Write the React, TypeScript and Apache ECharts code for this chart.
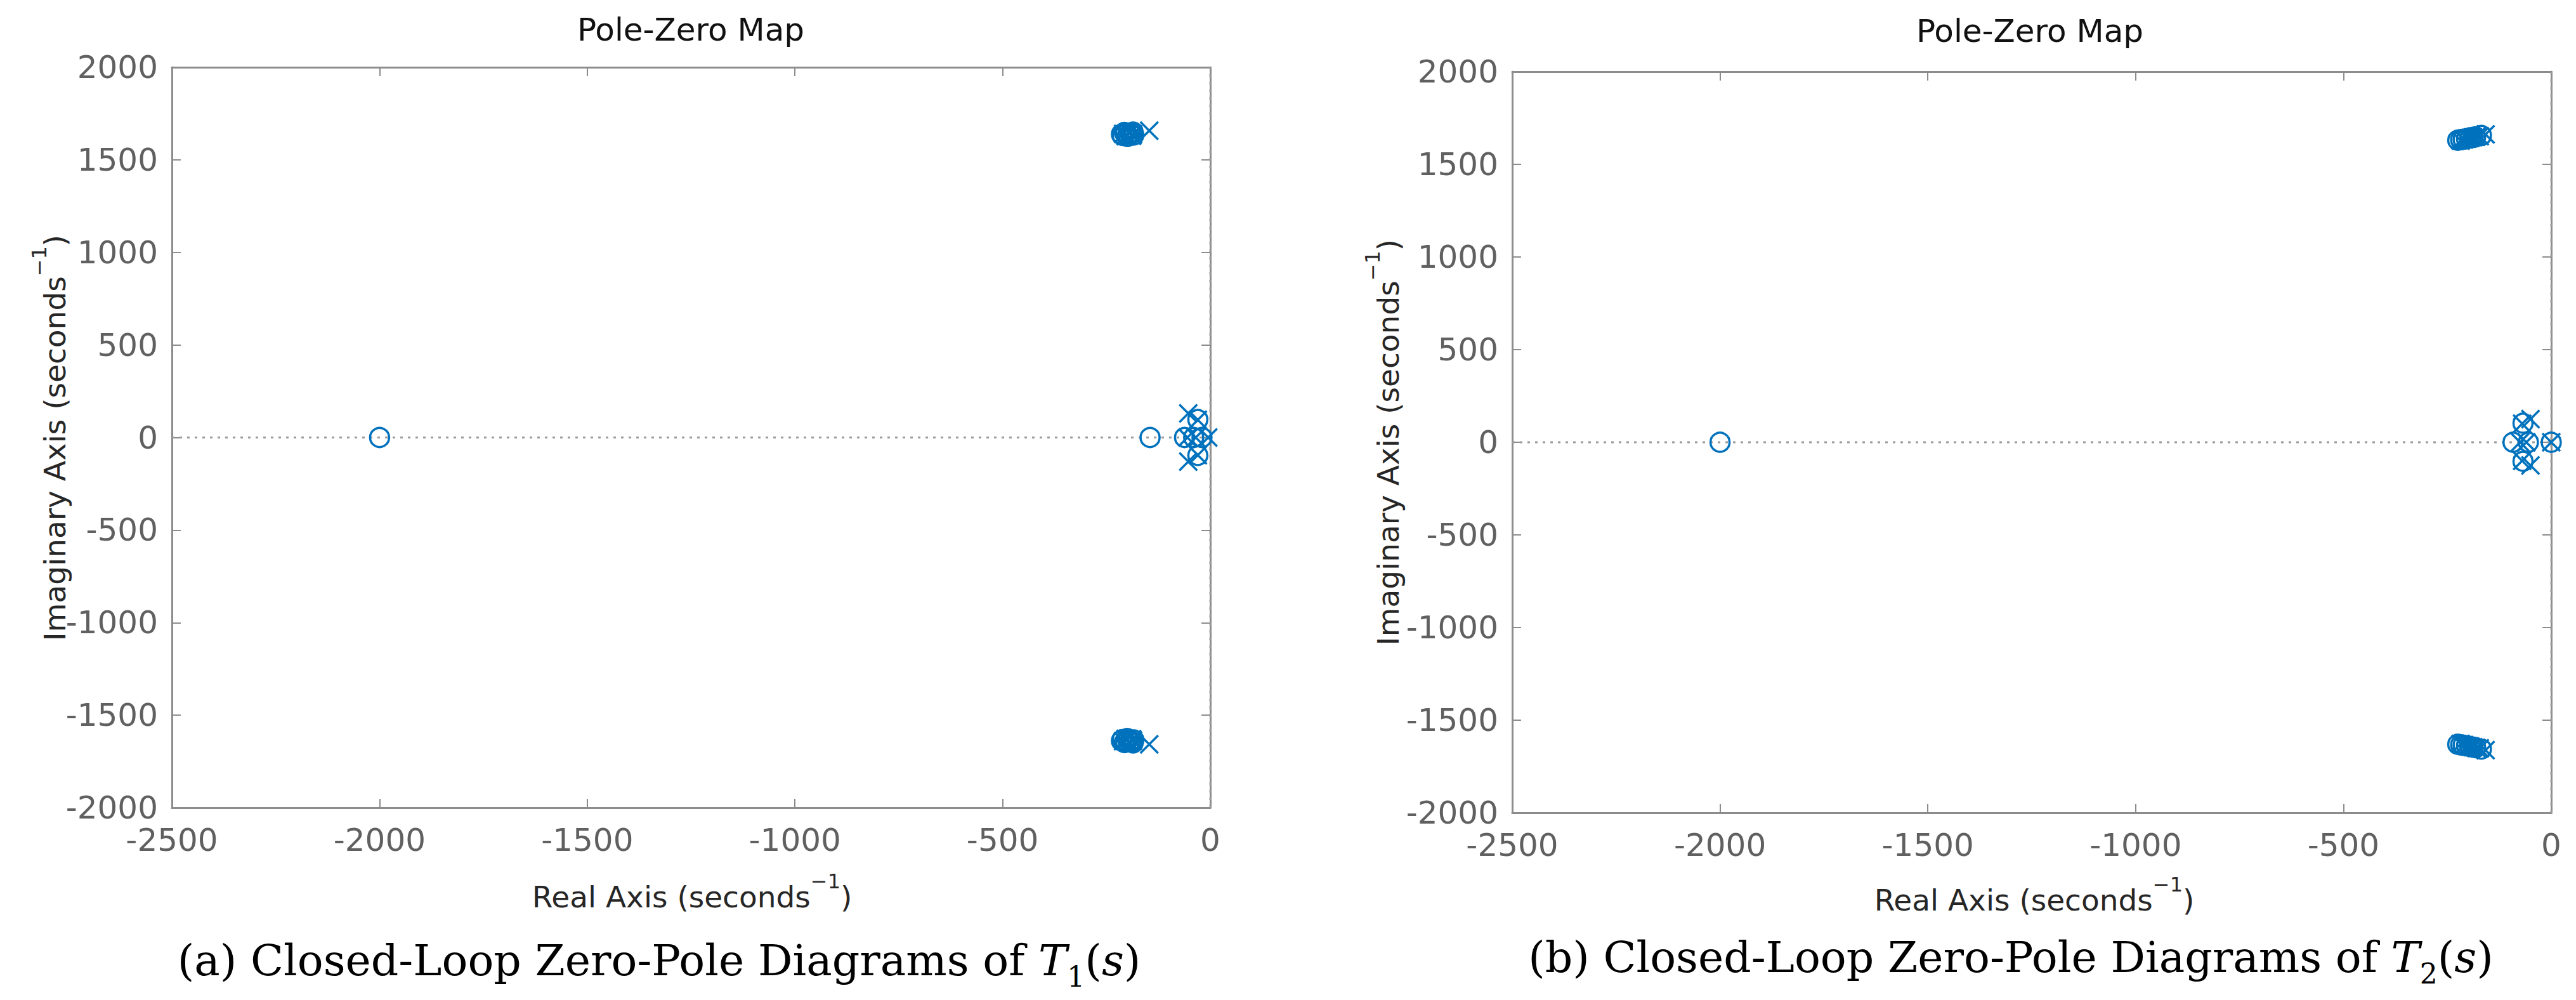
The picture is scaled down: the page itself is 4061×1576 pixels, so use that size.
import React, { useEffect, useRef } from "react";
import * as echarts from "echarts";

// ---------- data (real, imaginary) ----------
const xTicks = { min: -2500, max: 0, interval: 500 };
const yTicks = { min: -2000, max: 2000, interval: 500 };

const t1Poles: number[][] = [
  [-210, 1640], [-204, 1628], [-200, 1635], [-196, 1648], [-193, 1646], [-188, 1630], [-186, 1638], [-147, 1657],
  [-210, -1640], [-204, -1628], [-200, -1635], [-196, -1648], [-193, -1646], [-188, -1630], [-186, -1638], [-147, -1657],
  [-53, 130], [-53, -130], [-30, 95], [-30, -95],
  [-55, 0], [-35, 0], [-5, 0],
];
const t1Zeros: number[][] = [
  [-2000, 0], [-145, 0],
  [-214, 1638], [-212, 1632], [-207, 1648], [-204, 1645], [-200, 1626], [-197, 1630], [-193, 1640], [-190, 1642], [-186, 1650], [-184, 1634],
  [-214, -1638], [-212, -1632], [-207, -1648], [-204, -1645], [-200, -1626], [-197, -1630], [-193, -1640], [-190, -1642], [-186, -1650], [-184, -1634],
  [-30, 97], [-30, -97],
  [-62, 0], [-40, 0], [-20, 0], [2, 0],
];
const t2Poles: number[][] = [
  [-218, 1628], [-210, 1634], [-203, 1640], [-195, 1643], [-188, 1646], [-180, 1650], [-172, 1652], [-158, 1662],
  [-218, -1628], [-210, -1634], [-203, -1640], [-195, -1643], [-188, -1646], [-180, -1650], [-172, -1652], [-158, -1662],
  [-50, 125], [-50, -125], [-70, 100], [-70, -100],
  [-75, 0], [-60, 0], [0, 0],
];
const t2Zeros: number[][] = [
  [-2000, 0],
  [-225, 1630], [-218, 1633], [-212, 1635], [-204, 1638], [-196, 1642], [-189, 1645], [-182, 1648], [-168, 1656],
  [-225, -1630], [-218, -1633], [-212, -1635], [-204, -1638], [-196, -1642], [-189, -1645], [-182, -1648], [-168, -1656],
  [-68, 103], [-68, -103],
  [-92, 0], [-55, 0], [0, 0],
];

const panels = [
  { poles: t1Poles, zeros: t1Zeros, letter: "(a)", sub: "1" },
  { poles: t2Poles, zeros: t2Zeros, letter: "(b)", sub: "2" },
];

// ---------- layout / style ----------
const BLUE = "#0072BD";
const AXIS_GRAY = "#8c8c8c";
const SANS = "DejaVu Sans";
const SERIF = "DejaVu Serif";
const grids = [
  { left: 271, top: 106, width: 1637, height: 1167 },
  { left: 2384, top: 113, width: 1638, height: 1168 },
];
const titlePos = [[1089, 47], [3200, 49]];
const xNamePos = [[1091, 1405], [3207, 1410]];
const yNamePos = [[78, 690], [2180, 697]];
const captionPos = [[1039, 1513], [3170, 1508]];

const CROSS = "path://M0,0L10,10M10,0L0,10";

export default function App() {
  const ref = useRef<HTMLDivElement>(null);
  useEffect(() => {
    if (!ref.current) return;
    const chart = echarts.init(ref.current, undefined, { renderer: "svg" });

    const xAxes: any[] = [];
    const yAxes: any[] = [];
    const series: any[] = [];
    const graphics: any[] = [];
    const lineStyle = { color: AXIS_GRAY, width: 3 };
    const fmt = (v: number) => String(v);

    panels.forEach((p, i) => {
      ["bottom", "top"].forEach((pos) => {
        xAxes.push({
          gridIndex: i,
          type: "value",
          position: pos,
          ...xTicks,
          axisLine: { show: true, onZero: false, lineStyle },
          axisTick: { show: true, inside: true, length: 14, lineStyle: { color: AXIS_GRAY, width: 2 } },
          axisLabel: {
            show: pos === "bottom",
            color: "#606060",
            fontFamily: SANS,
            fontSize: 50,
            margin: 26,
            formatter: fmt,
          },
          splitLine: { show: false },
        });
      });
      ["left", "right"].forEach((pos) => {
        yAxes.push({
          gridIndex: i,
          type: "value",
          position: pos,
          ...yTicks,
          axisLine: { show: true, onZero: false, lineStyle },
          axisTick: { show: true, inside: true, length: 14, lineStyle: { color: AXIS_GRAY, width: 2 } },
          axisLabel: {
            show: pos === "left",
            color: "#606060",
            fontFamily: SANS,
            fontSize: 50,
            margin: 22,
            formatter: fmt,
          },
          splitLine: { show: false },
        });
      });

      const xi = i * 2;
      const yi = i * 2;
      series.push({
        type: "line",
        xAxisIndex: xi,
        yAxisIndex: yi,
        data: [[xTicks.min, 0], [xTicks.max, 0]],
        showSymbol: false,
        silent: true,
        lineStyle: { color: "#9a9a9a", width: 3, type: [4, 8] },
        z: 1,
      });
      series.push({
        type: "line",
        xAxisIndex: xi,
        yAxisIndex: yi,
        data: [[0, yTicks.min], [0, yTicks.max]],
        showSymbol: false,
        silent: true,
        lineStyle: { color: "#9a9a9a", width: 3, type: [4, 8] },
        z: 1,
      });
      series.push({
        type: "scatter",
        name: "zeros",
        xAxisIndex: xi,
        yAxisIndex: yi,
        data: p.zeros,
        symbol: "circle",
        symbolSize: 30,
        itemStyle: { color: "transparent", borderColor: BLUE, borderWidth: 3.5, opacity: 1 },
        z: 3,
      });
      series.push({
        type: "scatter",
        name: "poles",
        xAxisIndex: xi,
        yAxisIndex: yi,
        data: p.poles,
        symbol: CROSS,
        symbolSize: 28,
        itemStyle: { color: "transparent", borderColor: BLUE, borderWidth: 3.5, opacity: 1 },
        z: 3,
      });

      graphics.push({
        type: "text",
        x: titlePos[i][0],
        y: titlePos[i][1],
        style: {
          text: "Pole-Zero Map",
          fontFamily: SANS,
          fontSize: 50,
          fill: "#111",
          align: "center",
          verticalAlign: "middle",
        },
      });
      const nameRich = {
        a: { fontFamily: SANS, fontSize: 47, fill: "#262626", lineHeight: 64, verticalAlign: "bottom" },
        s: { fontFamily: SANS, fontSize: 32, fill: "#262626", lineHeight: 64, verticalAlign: "top" },
      };
      graphics.push({
        type: "text",
        x: xNamePos[i][0],
        y: xNamePos[i][1],
        style: {
          text: "{a|Real Axis (seconds}{s|−1}{a|)}",
          rich: nameRich,
          align: "center",
          verticalAlign: "middle",
        },
      });
      graphics.push({
        type: "text",
        x: yNamePos[i][0],
        y: yNamePos[i][1],
        rotation: Math.PI / 2,
        style: {
          text: "{a|Imaginary Axis (seconds}{s|−1}{a|)}",
          rich: nameRich,
          align: "center",
          verticalAlign: "middle",
        },
      });
      graphics.push({
        type: "text",
        x: captionPos[i][0],
        y: captionPos[i][1],
        style: {
          text: `{n|${p.letter} Closed-Loop Zero-Pole Diagrams of }{i|T}{b|${p.sub}}{n|(}{i|s}{n|)}`,
          rich: {
            n: { fontFamily: SERIF, fontSize: 68, fill: "#000", lineHeight: 96, verticalAlign: "middle" },
            i: { fontFamily: SERIF, fontSize: 68, fontStyle: "italic", fill: "#000", lineHeight: 96, verticalAlign: "middle" },
            b: { fontFamily: SERIF, fontSize: 44, fill: "#000", lineHeight: 96, verticalAlign: "bottom" },
          },
          align: "center",
          verticalAlign: "middle",
        },
      });
    });

    chart.setOption({
      animation: false,
      backgroundColor: "#ffffff",
      grid: grids.map((g) => ({ ...g, containLabel: false })),
      xAxis: xAxes,
      yAxis: yAxes,
      series,
      graphic: graphics,
    });
    return () => chart.dispose();
  }, []);

  return (
    <div
      ref={ref}
      style={{ position: "absolute", left: 0, top: 0, width: 4061, height: 1576, background: "#fff" }}
    />
  );
}
